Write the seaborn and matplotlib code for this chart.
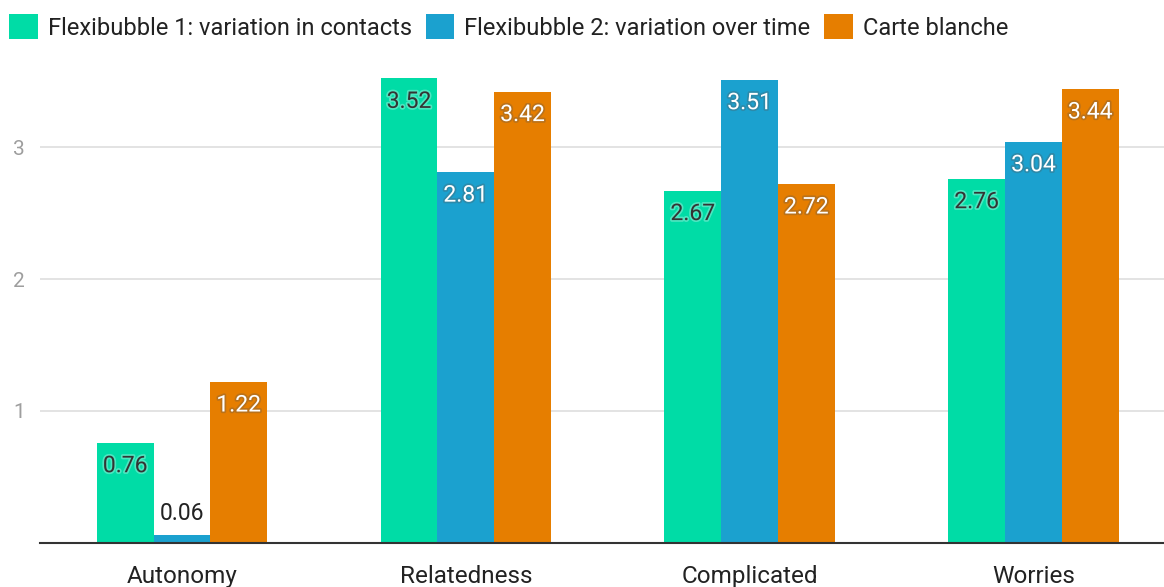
import pandas as pd
import matplotlib.pyplot as plt
import matplotlib.patheffects as pe
import seaborn as sns

categories = ["Autonomy", "Relatedness", "Complicated", "Worries"]
series = ["Flexibubble 1: variation in contacts",
          "Flexibubble 2: variation over time",
          "Carte blanche"]
flexi1 = [0.76, 3.52, 2.67, 2.76]
flexi2 = [0.06, 2.81, 3.51, 3.04]
carte = [1.22, 3.42, 2.72, 3.44]
colors = ["#00dca6", "#1ba1cf", "#e67e00"]

df = pd.DataFrame({
    "category": categories * 3,
    "series": [series[0]] * 4 + [series[1]] * 4 + [series[2]] * 4,
    "value": flexi1 + flexi2 + carte,
})

sns.set_style("white")
plt.rcParams["font.family"] = ["Roboto", "DejaVu Sans"]

fig = plt.figure(figsize=(11.64, 5.87), dpi=100)
ax = fig.add_axes([40 / 1164, 44 / 587, 1 - 40 / 1164, (543 - 61.2) / 587])

sns.barplot(data=df, x="category", y="value", hue="series",
            palette=colors, width=0.6, saturation=1, gap=0,
            edgecolor="none", linewidth=0, ax=ax, legend=True)

ax.set_xlim(-0.5, 3.46)
ax.set_ylim(0, 3.65)
ax.set_yticks([1, 2, 3])
ax.yaxis.grid(True, color="#e3e3e3", lw=1.4)
ax.set_axisbelow(True)
for s in ["top", "right", "left"]:
    ax.spines[s].set_visible(False)
ax.spines["bottom"].set_color("#333333")
ax.spines["bottom"].set_linewidth(1.5)
ax.set_xlabel("")
ax.set_ylabel("")
ax.tick_params(axis="y", length=0, labelsize=15, labelcolor="#9e9e9e", pad=11)
ax.tick_params(axis="x", length=0, labelsize=17.5, labelcolor="#222222", pad=16)

# value labels
for i, cont in enumerate(ax.containers):
    for bar in cont:
        h = bar.get_height()
        xc = bar.get_x() + bar.get_width() / 2
        if h < 0.3:
            ax.annotate(f"{h:.2f}", (xc, h), xytext=(0, 22), textcoords="offset pixels",
                        ha="center", va="center", fontsize=16.5, color="#222222")
            continue
        if i == 0:
            tc, gc = "#333333", "white"
        else:
            tc, gc = "white", "#555555"
        ax.annotate(f"{h:.2f}", (xc, h), xytext=(0, -23), textcoords="offset pixels",
                    ha="center", va="center", fontsize=16.5, color=tc,
                    path_effects=[pe.withStroke(linewidth=2.5, foreground=gc, alpha=0.3)])

handles, labels = ax.get_legend_handles_labels()
ax.get_legend().remove()
fig.legend(handles, labels, loc="upper left", bbox_to_anchor=(0.0, 1 - 5 / 587),
           ncol=3, frameon=False, fontsize=17, handlelength=1.2, handleheight=1.2,
           handletextpad=0.42, columnspacing=0.6, borderaxespad=0.0,
           labelcolor="#222222")

fig.savefig("out.png", dpi=100)
